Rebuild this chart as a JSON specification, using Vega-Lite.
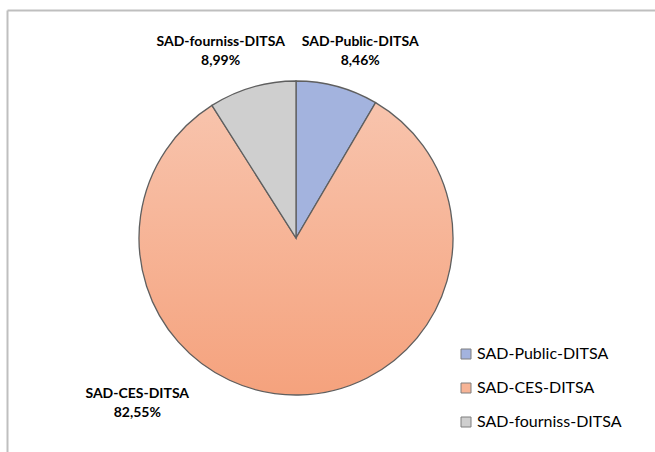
{
  "$schema": "https://vega.github.io/schema/vega-lite/v6.json",
  "width": 648,
  "height": 442,
  "autosize": {"type": "none"},
  "padding": {"left": 7, "top": 10, "right": 0, "bottom": 0},
  "background": "white",
  "config": {"view": {"stroke": null}},
  "data": {
    "values": [
      {"cat": "SAD-Public-DITSA", "pct": 8.46, "order": 1, "label": ["SAD-Public-DITSA", "8,46%"]},
      {"cat": "SAD-CES-DITSA", "pct": 82.55, "order": 2, "label": ["SAD-CES-DITSA", "82,55%"]},
      {"cat": "SAD-fourniss-DITSA", "pct": 8.99, "order": 3, "label": ["SAD-fourniss-DITSA", "8,99%"]}
    ]
  },
  "layer": [
    {
      "mark": {"type": "point", "opacity": 0},
      "encoding": {
        "x": {
          "field": "pct",
          "type": "quantitative",
          "axis": {"orient": "top", "title": null, "labels": false, "ticks": false, "grid": false, "domainColor": "#BFBFBF", "domainWidth": 2}
        },
        "y": {
          "field": "pct",
          "type": "quantitative",
          "axis": {"orient": "left", "title": null, "labels": false, "ticks": false, "grid": false, "domainColor": "#BFBFBF", "domainWidth": 2}
        }
      }
    },
    {
      "mark": {"type": "arc", "radius": 157, "x": 289, "y": 228, "stroke": "#5F5F5F", "strokeWidth": 1.3},
      "encoding": {
        "theta": {"field": "pct", "type": "quantitative", "stack": true},
        "order": {"field": "order", "type": "quantitative"},
        "fill": {
          "condition": {
            "test": "datum.cat === 'SAD-CES-DITSA'",
            "value": {"gradient": "linear", "x1": 0, "y1": 0, "x2": 0, "y2": 1, "stops": [{"offset": 0, "color": "#F8C4AD"}, {"offset": 1, "color": "#F5A27D"}]}
          },
          "field": "cat",
          "type": "nominal",
          "scale": {"domain": ["SAD-Public-DITSA", "SAD-CES-DITSA", "SAD-fourniss-DITSA"], "range": ["#A3B3DE", "#F7B496", "#CFCFCF"]},
          "legend": {
            "orient": "none",
            "legendX": 451,
            "legendY": 336,
            "title": null,
            "symbolType": "square",
            "symbolSize": 100,
            "symbolStrokeColor": "#7F7F7F",
            "symbolStrokeWidth": 1,
            "labelFont": "Lato",
            "labelFontSize": 16,
            "labelColor": "#000000",
            "labelOffset": 3,
            "rowPadding": 18,
            "padding": 0
          }
        }
      }
    },
    {
      "mark": {
        "type": "text",
        "radius": 195,
        "x": 289,
        "y": 228,
        "font": "Lato",
        "fontWeight": "bold",
        "fontSize": 14,
        "lineHeight": 19,
        "align": "center",
        "baseline": "middle",
        "color": "#000000",
        "dx": {"expr": "datum.cat === 'SAD-CES-DITSA' ? -162 : (datum.cat === 'SAD-Public-DITSA' ? 13 : -21)"},
        "dy": {"expr": "datum.cat === 'SAD-CES-DITSA' ? -39 : (datum.cat === 'SAD-Public-DITSA' ? -8 : -9)"}
      },
      "encoding": {
        "theta": {"field": "pct", "type": "quantitative", "stack": true},
        "order": {"field": "order", "type": "quantitative"},
        "text": {"field": "label"}
      }
    }
  ]
}
